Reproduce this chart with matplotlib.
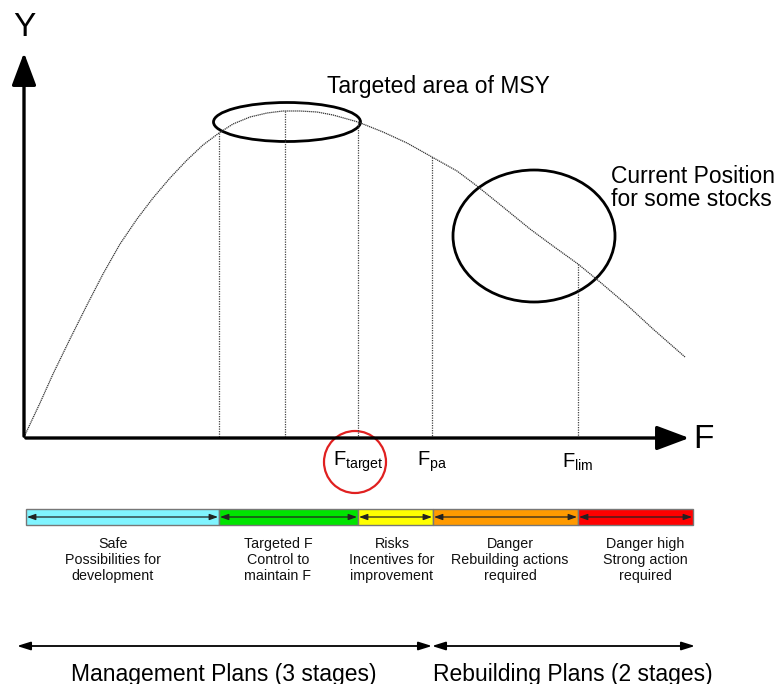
import numpy as np
import matplotlib.pyplot as plt
from matplotlib.patches import Ellipse, Circle, Rectangle

plt.rcParams['font.family'] = ['Liberation Sans', 'DejaVu Sans']
plt.rcParams['mathtext.fontset'] = 'custom'
plt.rcParams['mathtext.rm'] = 'Liberation Sans'

# yield curve (pixel-like units, y grows downward)
curve_f = [24, 40, 53, 70, 87, 103, 120, 137, 153, 170, 187, 203, 219, 233, 250,
           267, 283, 300, 317, 333, 358, 383, 407, 432, 457, 477, 503, 530, 553,
           578, 600, 627, 653, 685]
curve_y = [437, 403, 374, 339, 305, 274, 244, 219, 198, 178, 160, 145, 133, 124, 117,
           113, 111, 111, 112, 115, 122, 132, 143, 157, 171, 186, 207, 229, 246,
           264, 282, 305, 329, 357]

# reference points on F axis
ref_f = [219, 285, 358, 432, 578]
ref_labels = {358: r'$\mathregular{F_{target}}$', 432: r'$\mathregular{F_{pa}}$', 578: r'$\mathregular{F_{lim}}$'}

# zones
zone_edges = [26, 219, 358, 433, 578, 693]
zone_colors = ['#80F4FF', '#00E400', '#FFFF00', '#FF9A00', '#FF0000']
zone_text = ['Safe\nPossibilities for\ndevelopment',
             'Targeted F\nControl to\nmaintain F',
             'Risks\nIncentives for\nimprovement',
             'Danger\nRebuilding actions\nrequired',
             'Danger high\nStrong action\nrequired']
zone_text_x = [113, 278, 392, 510, 645]

plans = ['Management Plans (3 stages)', 'Rebuilding Plans (2 stages)']
plan_edges = [17, 432, 695]
plan_text_x = [224, 573]

axis_y = 438

fig = plt.figure(figsize=(7.84, 6.84), dpi=100)
ax = fig.add_axes([0, 0, 1, 1])
ax.set_xlim(0, 784)
ax.set_ylim(684, 0)
ax.axis('off')

# curve
ax.plot(curve_f, curve_y, color='#333333', lw=0.9, ls=(0, (1, 0.6)))

# dotted verticals
for f in ref_f:
    top = np.interp(f, curve_f, curve_y)
    ax.plot([f, f], [top, axis_y], color='#444444', lw=0.9, ls=(0, (1, 1)))

# axes arrows
head = '-|>,head_length=2.0,head_width=0.75'
ax.annotate('', xy=(24, 50), xytext=(24, axis_y + 1),
            arrowprops=dict(arrowstyle=head, color='black', lw=2.4))
ax.annotate('', xy=(692, axis_y), xytext=(23, axis_y),
            arrowprops=dict(arrowstyle=head, color='black', lw=2.4))
ax.text(24, 28, 'Y', fontsize=24, ha='center', va='center')
ax.text(693, 440, 'F', fontsize=24, ha='left', va='center')

# F labels
for f, lab in ref_labels.items():
    ax.text(f, 462, lab, fontsize=14.5, ha='center', va='center')
ax.add_patch(Circle((355, 462), 31, fill=False, ec='#E02020', lw=1.6))

# ellipses
ax.add_patch(Ellipse((287, 122), 147, 39, fill=False, ec='black', lw=2))
ax.add_patch(Ellipse((534, 236), 162, 132, fill=False, ec='black', lw=2))
ax.text(438, 87, 'Targeted area of MSY', fontsize=16.5, ha='center', va='center')
ax.text(611, 188, 'Current Position\nfor some stocks', fontsize=16.5, ha='left', va='center',
        linespacing=1.05)

# zone bar
for i in range(5):
    x0, x1 = zone_edges[i], zone_edges[i + 1]
    ax.add_patch(Rectangle((x0, 509), x1 - x0, 16, fc=zone_colors[i], ec='#777777', lw=1))
    ax.annotate('', xy=(x0 + 1, 517), xytext=(x1 - 1, 517),
                arrowprops=dict(arrowstyle='<|-|>,head_length=0.5,head_width=0.18', color='#222222',
                                lw=0.9, shrinkA=0, shrinkB=0))
    ax.text(zone_text_x[i], 560, zone_text[i], fontsize=10.3, ha='center', va='center',
            linespacing=1.15, color='#111111')

# plans
for i in range(2):
    ax.annotate('', xy=(plan_edges[i], 646), xytext=(plan_edges[i + 1], 646),
                arrowprops=dict(arrowstyle='<|-|>,head_length=0.8,head_width=0.25', color='black',
                                lw=1.3, shrinkA=0, shrinkB=0))
    ax.text(plan_text_x[i], 674, plans[i], fontsize=16.5, ha='center', va='center')

fig.savefig('out.png', dpi=100)
